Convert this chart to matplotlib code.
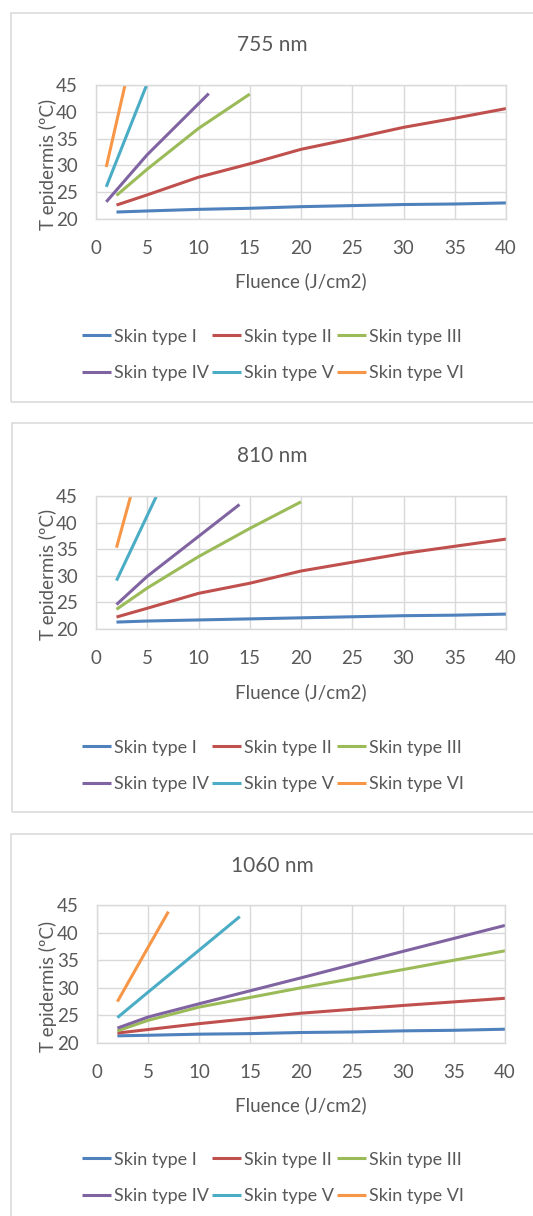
import matplotlib
matplotlib.use("Agg")
import matplotlib.pyplot as plt
from matplotlib.patches import Rectangle

plt.rcParams['font.family'] = ['Lato', 'DejaVu Sans']

# ---------------- data ----------------
series_names = ["Skin type I", "Skin type II", "Skin type III",
                "Skin type IV", "Skin type V", "Skin type VI"]
colors = ["#4F81BD", "#C0504D", "#9BBB59", "#8064A2", "#4BACC6", "#F79646"]

titles = ["755 nm", "810 nm", "1060 nm"]
x_ticks = [0, 5, 10, 15, 20, 25, 30, 35, 40]
y_ticks = [20, 25, 30, 35, 40, 45]

# 755 nm
f755_I = [2, 5, 10, 15, 20, 25, 30, 35, 40]
t755_I = [21.3, 21.5, 21.8, 22.0, 22.3, 22.5, 22.7, 22.8, 23.0]
f755_II = [2, 5, 10, 15, 20, 25, 30, 35, 40]
t755_II = [22.6, 24.5, 27.8, 30.3, 33.0, 35.0, 37.1, 38.8, 40.6]
f755_III = [2, 5, 10, 15]
t755_III = [24.4, 29.3, 36.9, 43.3]
f755_IV = [1, 5, 11]
t755_IV = [23.2, 32.0, 43.4]
f755_V = [1, 5]
t755_V = [26.0, 45.3]
f755_VI = [1, 3]
t755_VI = [29.7, 46.4]

# 810 nm
f810_I = [2, 5, 10, 15, 20, 25, 30, 35, 40]
t810_I = [21.3, 21.5, 21.7, 21.9, 22.1, 22.3, 22.5, 22.6, 22.8]
f810_II = [2, 5, 10, 15, 20, 30, 40]
t810_II = [22.25, 23.9, 26.7, 28.6, 30.9, 34.2, 36.9]
f810_III = [2, 5, 10, 15, 20]
t810_III = [23.7, 27.7, 33.6, 38.9, 43.9]
f810_IV = [2, 5, 10, 14]
t810_IV = [24.6, 29.9, 37.4, 43.4]
f810_V = [2, 6]
t810_V = [29.1, 45.4]
f810_VI = [2, 4]
t810_VI = [35.3, 49.3]

# 1060 nm
f1060_I = [2, 5, 10, 15, 20, 25, 30, 35, 40]
t1060_I = [21.3, 21.4, 21.6, 21.7, 21.9, 22.0, 22.2, 22.3, 22.5]
f1060_II = [2, 10, 20, 30, 40]
t1060_II = [21.8, 23.5, 25.4, 26.8, 28.1]
f1060_III = [2, 5, 10, 20, 30, 40]
t1060_III = [22.2, 24.1, 26.5, 30.0, 33.3, 36.7]
f1060_IV = [2, 5, 10, 20, 30, 40]
t1060_IV = [22.7, 24.7, 27.1, 31.8, 36.6, 41.3]
f1060_V = [2, 5, 10, 14]
t1060_V = [24.6, 29.2, 36.8, 42.9]
f1060_VI = [2, 5, 7]
t1060_VI = [27.5, 37.3, 43.8]

panels = [
    [(f755_I, t755_I), (f755_II, t755_II), (f755_III, t755_III),
     (f755_IV, t755_IV), (f755_V, t755_V), (f755_VI, t755_VI)],
    [(f810_I, t810_I), (f810_II, t810_II), (f810_III, t810_III),
     (f810_IV, t810_IV), (f810_V, t810_V), (f810_VI, t810_VI)],
    [(f1060_I, t1060_I), (f1060_II, t1060_II), (f1060_III, t1060_III),
     (f1060_IV, t1060_IV), (f1060_V, t1060_V), (f1060_VI, t1060_VI)],
]

# ---------------- layout (pixels) ----------------
W, H = 533, 1216
fig = plt.figure(figsize=(W / 100, H / 100), dpi=100)
fig.patch.set_facecolor("white")

TXT = "#595959"
GRID = "#D9D9D9"

def fx(px):
    return px / W

def fy(py):
    return 1 - py / H

layout = [
    dict(box=(11, 13, 402), ax=(96, 506, 85, 219), title=45, xlabel=281, leg=355),
    dict(box=(12, 423, 812), ax=(96, 506, 496, 629), title=456, xlabel=692, leg=766),
    dict(box=(11, 834, 1240), ax=(97, 505, 905, 1043), title=866, xlabel=1105, leg=1178),
]

for p, L in enumerate(layout):
    bx, btop, bbot = L["box"]
    fig.add_artist(Rectangle((fx(bx), fy(bbot)), fx(W + 20 - bx), fy(btop) - fy(bbot),
                             transform=fig.transFigure, fill=False,
                             edgecolor=GRID, linewidth=1.1))
    l, r, t, b = L["ax"]
    ax = fig.add_axes([fx(l), fy(b), fx(r - l), fy(t) - fy(b)])
    handles = []
    for (xs, ys), name, c in zip(panels[p], series_names, colors):
        h, = ax.plot(xs, ys, color=c, linewidth=2.2, label=name,
                     solid_capstyle="butt")
        handles.append(h)
    ax.set_xlim(0, 40)
    ax.set_ylim(20, 45)
    ax.set_xticks(x_ticks)
    ax.set_yticks(y_ticks)
    ax.grid(True, color=GRID, linewidth=1.0)
    ax.set_axisbelow(True)
    for s in ax.spines.values():
        s.set_color(GRID)
        s.set_linewidth(1.0)
    ax.tick_params(length=0, labelsize=13.5, colors=TXT, pad=13)
    ax.tick_params(axis="x", pad=15)
    ax.set_ylabel("T epidermis (ºC)", fontsize=13.5, color=TXT)
    ax.yaxis.label.set_va("center")
    ax.yaxis.set_label_coords((48 - l) / (r - l), 0.41)
    fig.text(fx((l + r) / 2), fy(L["xlabel"]), "Fluence (J/cm2)", fontsize=13.5,
             color=TXT, ha="center", va="center")
    fig.text(fx(272), fy(L["title"]), titles[p], fontsize=15, color=TXT,
             ha="center", va="center")
    order = [0, 3, 1, 4, 2, 5]
    leg = ax.legend([handles[i] for i in order], [series_names[i] for i in order],
                    ncol=3, loc="center", bbox_to_anchor=(fx(273), fy(L["leg"])),
                    bbox_transform=fig.transFigure, frameon=False, fontsize=13,
                    handlelength=1.6, handletextpad=0.15, columnspacing=0.2,
                    labelspacing=1.15, borderpad=0)
    for txt in leg.get_texts():
        txt.set_color(TXT)

fig.savefig("out.png", dpi=100, facecolor="white")
